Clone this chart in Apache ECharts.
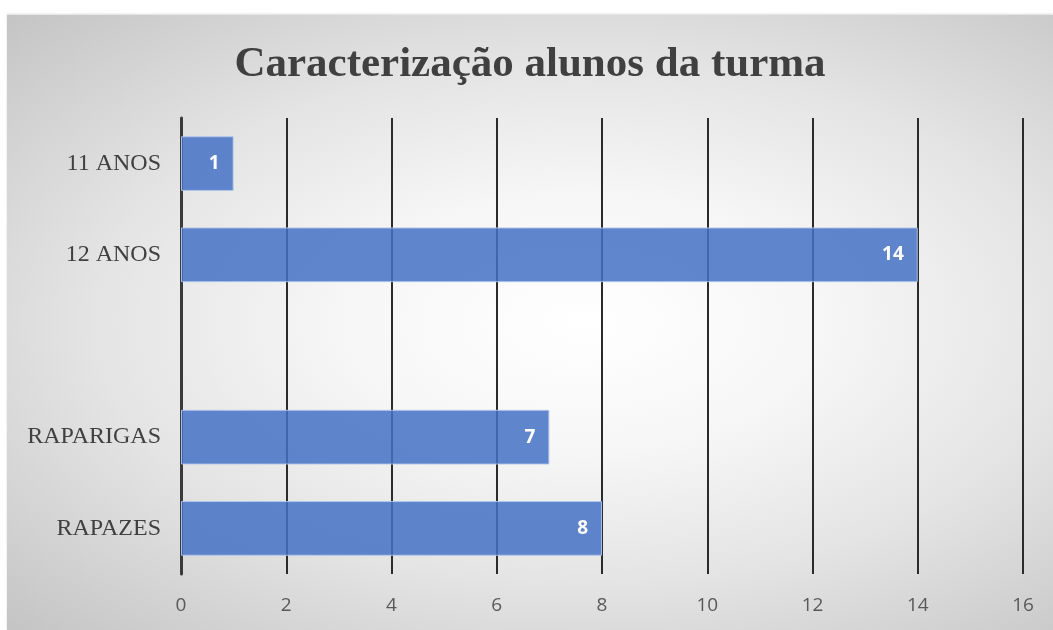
<!DOCTYPE html>
<html>
<head>
<meta charset="utf-8">
<script src="https://cdn.jsdelivr.net/npm/echarts@6/dist/echarts.min.js"></script>
<style>
    body{ margin:0; background:#fff; }
    #chart{
        position:absolute; left:7px; top:15px; width:1046px; height:615px;
        background: radial-gradient(ellipse at 55% 50%, #ffffff 0%, #f6f6f6 30%, #e4e4e4 60%, #c4c4c4 100%);
        box-shadow: 0 -1px 2px rgba(0,0,0,0.15);
    }
</style>
</head>
<body>
<div id="chart"></div>
<script>
// categories from bottom to top
var categories = ['RAPAZES', 'RAPARIGAS', '', '12 ANOS', '11 ANOS'];
var values = [8, 7, null, 14, 1];
var xTicks = [0, 2, 4, 6, 8, 10, 12, 14, 16];

var myChart = echarts.init(document.getElementById('chart'));
var option = {
    backgroundColor: 'transparent',
    title: {
        text: 'Caracterização alunos da turma',
        left: 'center',
        top: 23,
        textStyle: {
            fontFamily: 'Liberation Serif',
            fontWeight: 'bold',
            fontSize: 43,
            color: '#404040'
        }
    },
    grid: { left: 174, right: 30, top: 103, bottom: 56 },
    xAxis: {
        type: 'value',
        min: xTicks[0],
        max: xTicks[xTicks.length - 1],
        interval: 2,
        axisLine: { show: false },
        axisTick: { show: false },
        axisLabel: {
            margin: 22,
            fontFamily: 'Open Sans',
            fontSize: 19,
            color: '#595959'
        },
        splitLine: {
            show: true,
            lineStyle: { color: '#2b2b2b', width: 2 }
        }
    },
    yAxis: {
        type: 'category',
        data: categories,
        axisLine: { show: true, lineStyle: { color: '#3a3a3a', width: 3 } },
        axisTick: { show: false },
        axisLabel: {
            margin: 20,
            fontFamily: 'Liberation Serif',
            fontSize: 24,
            color: '#404040'
        }
    },
    series: [{
        type: 'bar',
        data: values,
        barCategoryGap: '40%',
        itemStyle: {
            color: 'rgba(68,114,196,0.85)',
            borderColor: 'rgba(180,200,235,0.9)',
            borderWidth: 1
        },
        label: {
            show: true,
            position: 'insideRight',
            distance: 14,
            color: '#ffffff',
            fontFamily: 'Open Sans',
            fontWeight: 'bold',
            fontSize: 19
        },
        z: 3
    }]
};
myChart.setOption(option);
</script>
</body>
</html>
